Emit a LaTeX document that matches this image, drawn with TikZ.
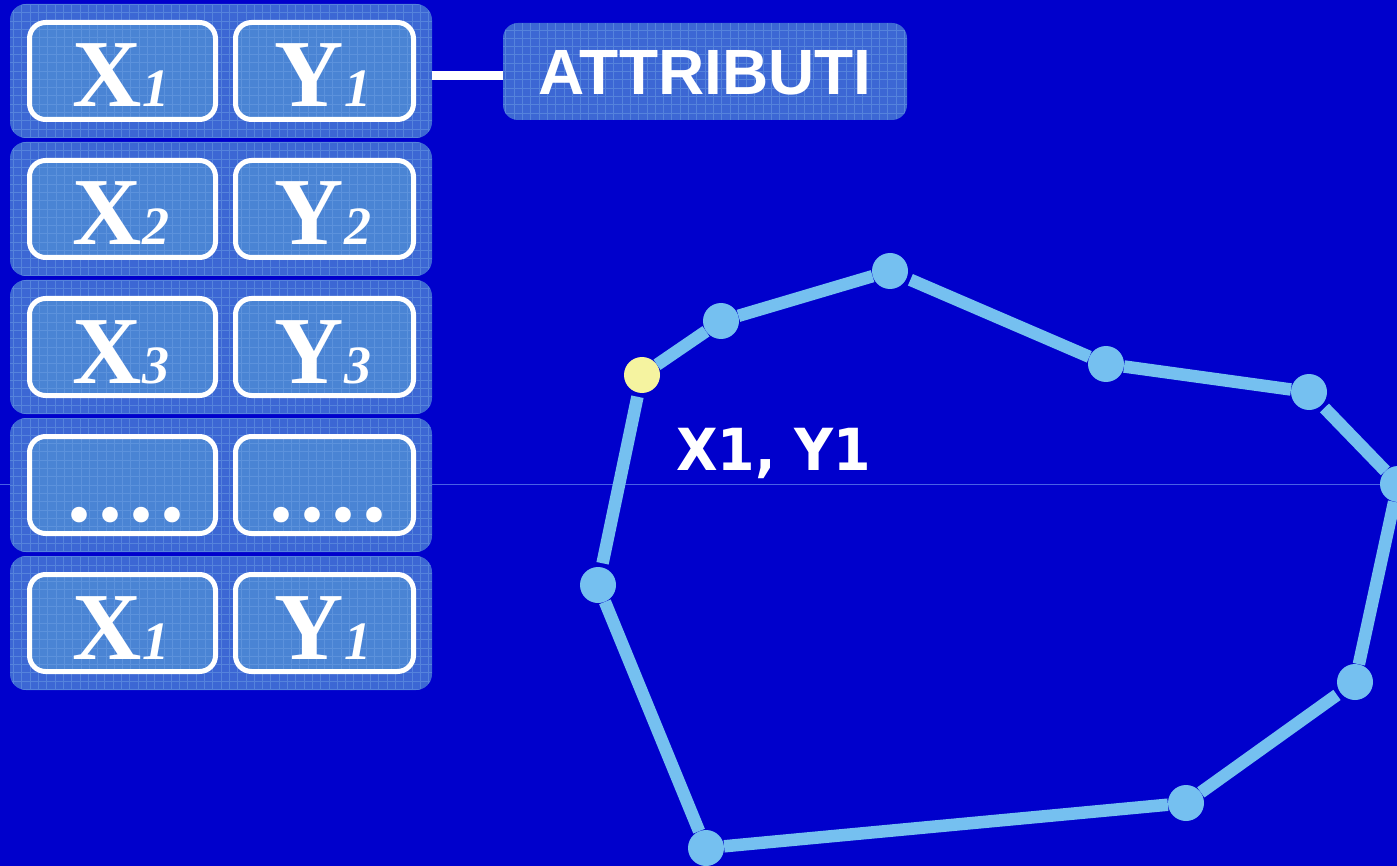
\documentclass[tikz,border=0pt]{standalone}
\usepackage{fontspec}
\setmainfont{Liberation Serif}
\newfontfamily\attrfont{Liberation Sans}
\newfontfamily\comicfont{DejaVu Sans}[FakeStretch=0.93]
\usetikzlibrary{calc,backgrounds}
\definecolor{bgblue}{RGB}{0,0,204}
\definecolor{panelblue}{RGB}{60,103,212}
\definecolor{boxblue}{RGB}{74,132,212}
\definecolor{gridblue}{RGB}{110,160,228}
\definecolor{polyblue}{RGB}{117,192,240}
\definecolor{vyellow}{RGB}{245,243,160}
\definecolor{hairblue}{RGB}{90,120,235}
\newcommand{\bigfs}{\fontsize{96}{96}\selectfont}
\newcommand{\subfs}{\fontsize{54}{54}\selectfont}
\newcommand{\cellXY}[2]{{\bigfs\bfseries #1}{\subfs\bfseries\itshape #2}}
\newcommand{\cellDots}{{\bigfs\bfseries .\hspace{7pt}.\hspace{7pt}.\hspace{7pt}.}}
\tikzset{
  gridfill/.style={path picture={\draw[gridblue, line width=0.8pt, opacity=0.5]
      (path picture bounding box.south west) grid[step=8.3pt] (path picture bounding box.north east);}},
  panel/.style={draw=none, fill=panelblue, rounded corners=16pt, minimum width=422pt,
      minimum height=134pt, inner sep=0pt, gridfill},
  cellbox/.style={draw=white, line width=5pt, fill=boxblue, rounded corners=16pt,
      minimum height=97pt, inner sep=0pt, gridfill},
  leftcell/.style={cellbox, minimum width=186pt},
  rightcell/.style={cellbox, minimum width=178pt},
  celltext/.style={text=white, anchor=base, inner sep=0pt},
  attrbox/.style={draw=none, fill=panelblue, rounded corners=15pt, minimum width=404pt,
      minimum height=97pt, inner sep=0pt, gridfill},
  polyline/.style={polyblue, line width=12.5pt},
  vtx/.style={circle, fill=polyblue, minimum size=36pt, inner sep=0pt},
  startvtx/.style={vtx, fill=vyellow},
  gapend/.style={shorten >=4pt},
  gapstart/.style={shorten <=4pt},
}
\begin{document}
\begin{tikzpicture}[x=1pt, y=-1pt]
\useasboundingbox (0,0) rectangle (1397,866);
\clip (0,0) rectangle (1397,866);
\fill[bgblue] (0,0) rectangle (1397,866);
\draw[hairblue, line width=1pt, opacity=0.8] (0,484) -- (1397,484);

% rows of attributes
\foreach \k/\a/\b/\dx in {0/{\cellXY{X}{1}}/{\cellXY{Y}{1}}/0,
                      1/{\cellXY{X}{2}}/{\cellXY{Y}{2}}/0,
                      2/{\cellXY{X}{3}}/{\cellXY{Y}{3}}/0,
                      3/{\cellDots}/{\cellDots}/5,
                      4/{\cellXY{X}{1}}/{\cellXY{Y}{1}}/0}{
  \pgfmathsetmacro{\T}{4+138*\k}
  \node[panel] (row\k) at (221,\T+67) {};
  \node[leftcell] (lc\k) at (122.5,\T+67) {};
  \node[rightcell] (rc\k) at (324.5,\T+67) {};
  \node[celltext] (lt\k) at (121+\dx,\T+103) {\a};
  \node[celltext] (rt\k) at (323+\dx,\T+103) {\b};
}

% label
\node[attrbox] (attr) at (705,71.5) {};
\node[text=white, anchor=base, inner sep=0pt] (attrtext) at (705,95)
  {\attrfont\bfseries\fontsize{64}{64}\selectfont ATTRIBUTI};
\draw[white, line width=9pt] ($(row0.east)+(0,5)$) -- ($(attr.west)+(0,4.5)$);

% polygon
\node[startvtx] (v1) at (642,375) {};
\node[vtx] (v2) at (721,321) {};
\node[vtx] (v3) at (890,271) {};
\node[vtx] (v4) at (1106,364) {};
\node[vtx] (v5) at (1309,392) {};
\node[vtx] (v6) at (1398,484) {};
\node[vtx] (v7) at (1355,682) {};
\node[vtx] (v8) at (1186,803) {};
\node[vtx] (v9) at (706,848) {};
\node[vtx] (v10) at (598,585) {};
\draw[polyline] (v1) -- (v2);
\draw[polyline] (v2) -- (v3);
\draw[polyline, gapstart] (v3) -- (v4);
\draw[polyline] (v4) -- (v5);
\draw[polyline, gapstart] (v5) -- (v6);
\draw[polyline] (v6) -- (v7);
\draw[polyline, gapstart] (v7) -- (v8);
\draw[polyline] (v8) -- (v9);
\draw[polyline] (v9) -- (v10);
\draw[polyline, gapstart, gapend] (v10) -- (v1);

\node[text=white, anchor=base west, inner sep=0pt] (coord) at (676,470)
  {\comicfont\bfseries\fontsize{58}{58}\selectfont X1, Y1};
\end{tikzpicture}
\end{document}
